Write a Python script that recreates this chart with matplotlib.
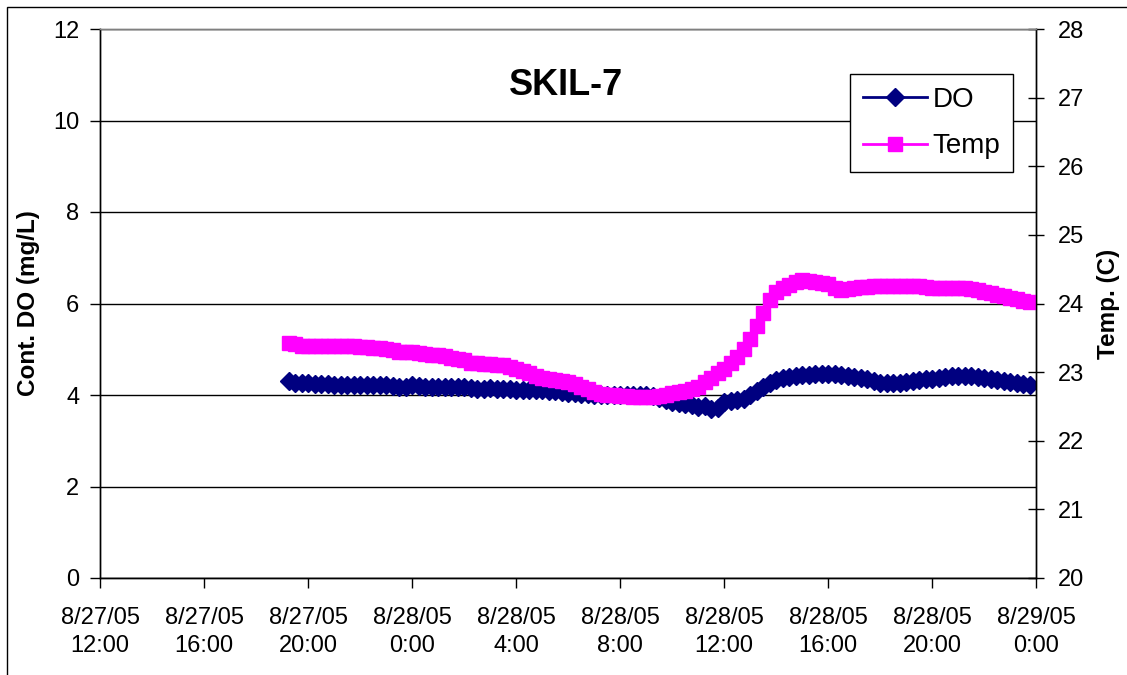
import matplotlib
matplotlib.use("Agg")
import matplotlib.pyplot as plt
from matplotlib.patches import Rectangle
import pandas as pd

plt.rcParams['font.family'] = ['Liberation Sans', 'DejaVu Sans']

# 15-minute readings, 8/27/05 19:15 through 8/28/05 23:45
times = pd.date_range('2005-08-27 19:15', periods=115, freq='15min')

do_mgl = [
    4.30, 4.27, 4.26, 4.26, 4.25, 4.25, 4.23, 4.22, 4.21, 4.21,
    4.21, 4.21, 4.21, 4.21, 4.21, 4.21, 4.20, 4.18, 4.18, 4.21,
    4.19, 4.17, 4.17, 4.17, 4.17, 4.17, 4.17, 4.17, 4.15, 4.14,
    4.14, 4.15, 4.14, 4.13, 4.13, 4.12, 4.12, 4.12, 4.11, 4.10,
    4.09, 4.08, 4.06, 4.05, 4.04, 4.03, 4.02, 4.01, 4.00, 3.99,
    3.99, 4.00, 4.01, 4.01, 4.01, 4.00, 3.97, 3.93, 3.88, 3.85,
    3.83, 3.81, 3.78, 3.74, 3.75, 3.70, 3.72, 3.84, 3.86, 3.88,
    3.92, 4.00, 4.08, 4.18, 4.27, 4.33, 4.38, 4.40, 4.41, 4.43,
    4.44, 4.45, 4.45, 4.45, 4.45, 4.44, 4.42, 4.40, 4.37, 4.34,
    4.31, 4.27, 4.26, 4.26, 4.27, 4.28, 4.30, 4.32, 4.34, 4.36,
    4.38, 4.40, 4.41, 4.42, 4.42, 4.41, 4.39, 4.37, 4.34, 4.32,
    4.30, 4.28, 4.27, 4.25, 4.22,
]

temp_c = [
    23.42, 23.41, 23.38, 23.38, 23.38, 23.38, 23.38, 23.38, 23.38, 23.38,
    23.38, 23.37, 23.36, 23.35, 23.35, 23.34, 23.32, 23.30, 23.30, 23.29,
    23.28, 23.26, 23.25, 23.25, 23.23, 23.21, 23.19, 23.17, 23.14, 23.13,
    23.12, 23.12, 23.11, 23.10, 23.08, 23.05, 23.02, 22.98, 22.94, 22.92,
    22.90, 22.88, 22.87, 22.85, 22.82, 22.78, 22.75, 22.71, 22.68, 22.67,
    22.66, 22.65, 22.65, 22.64, 22.64, 22.64, 22.64, 22.65, 22.67, 22.69,
    22.71, 22.73, 22.75, 22.79, 22.85, 22.92, 22.98, 23.05, 23.13, 23.22,
    23.33, 23.48, 23.67, 23.86, 24.05, 24.17, 24.22, 24.27, 24.32, 24.34,
    24.33, 24.32, 24.30, 24.28, 24.22, 24.20, 24.21, 24.23, 24.24, 24.24,
    24.25, 24.26, 24.26, 24.26, 24.26, 24.26, 24.26, 24.25, 24.24, 24.23,
    24.23, 24.23, 24.23, 24.23, 24.22, 24.21, 24.19, 24.17, 24.15, 24.13,
    24.11, 24.08, 24.06, 24.04, 24.02,
]

tick_times = pd.date_range('2005-08-27 12:00', periods=10, freq='4h')
tick_labels = [f"{t.month}/{t.day}/{t:%y}\n{t.hour}:00" for t in tick_times]

do_ticks = [0, 2, 4, 6, 8, 10, 12]
temp_ticks = [20, 21, 22, 23, 24, 25, 26, 27, 28]

NAVY = '#000080'
MAGENTA = '#FF00FF'

fig = plt.figure(figsize=(11.27, 6.75), dpi=100)
ax = fig.add_axes([100 / 1127, 1 - 578 / 675, 936 / 1127, 549 / 675])
ax2 = ax.twinx()

# outer chart border
fig.patches.append(Rectangle((7 / 1127, -0.05), 1.2, 1 - 7 / 675 + 0.05,
                             transform=fig.transFigure, fill=False,
                             edgecolor='black', linewidth=1.0))

l1, = ax.plot(times, do_mgl, color=NAVY, lw=2, marker='D', markersize=9,
              markerfacecolor=NAVY, markeredgecolor=NAVY, label='DO')
l2, = ax2.plot(times, temp_c, color=MAGENTA, lw=2, marker='s', markersize=10,
               markerfacecolor=MAGENTA, markeredgecolor=MAGENTA, label='Temp')

ax.set_xlim(tick_times[0], tick_times[-1])
ax.set_ylim(0, 12)
ax2.set_ylim(20, 28)
ax.set_yticks(do_ticks)
ax2.set_yticks(temp_ticks)
ax.set_xticks(tick_times)
ax.set_xticklabels(tick_labels, linespacing=1.35)

for a in (ax, ax2):
    for s in a.spines.values():
        s.set_color('black')
        s.set_linewidth(1.0)
ax2.spines['top'].set_color('#808080')
ax.spines['top'].set_color('#808080')

ax.yaxis.grid(True, color='black', linewidth=1.0)
ax.set_axisbelow(True)

ax.tick_params(axis='y', direction='out', length=7, width=1, labelsize=17, pad=8)
ax.tick_params(axis='x', direction='out', length=7, width=1, labelsize=17, pad=14)
ax2.tick_params(axis='y', direction='inout', length=12, width=1, labelsize=17, pad=10)

ax.set_ylabel('Cont. DO (mg/L)', fontsize=17.5, fontweight='bold', labelpad=9)
ax2.set_ylabel('Temp. (C)', fontsize=17.5, fontweight='bold', labelpad=9)

ax.text(0.498, 0.88, 'SKIL-7', transform=ax.transAxes, ha='center',
        va='baseline', fontsize=26, fontweight='bold')

leg = ax2.legend(handles=[l1, l2], loc='upper right',
                 bbox_to_anchor=(0.975, 0.918), fontsize=20, frameon=True,
                 fancybox=False, edgecolor='black', framealpha=1,
                 handlelength=2.3, handletextpad=0.2, borderpad=0.45,
                 labelspacing=0.75, borderaxespad=0)
leg.get_frame().set_linewidth(1.0)

fig.savefig('out.png', dpi=100)
